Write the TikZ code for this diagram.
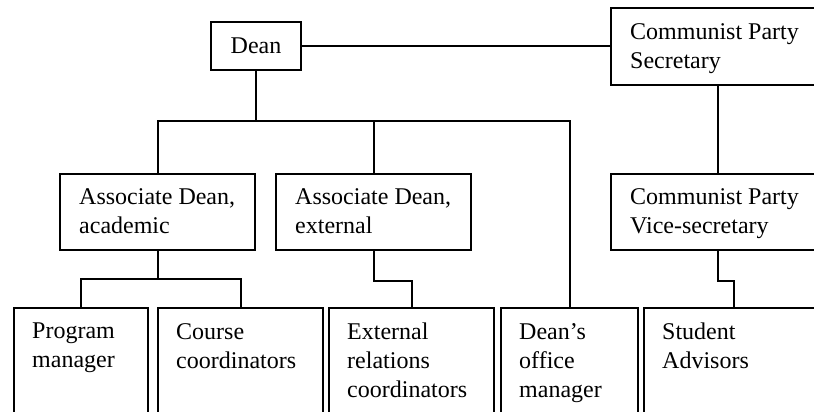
\documentclass[tikz,border=0pt]{standalone}
\usepackage{fontspec}
\setmainfont{Liberation Serif}
\begin{document}
\begin{tikzpicture}[x=1pt,y=-1pt,
  box/.style={draw, line width=2pt, inner sep=0pt, anchor=north west},
  lbl/.style={inner sep=0pt, anchor=north west, align=left, font=\fontsize{24}{29}\selectfont},
  conn/.style={line width=2pt}]
\clip (0,0) rectangle (814,412);
\fill[white] (0,0) rectangle (814,412);
% boxes
\node[box, minimum width=90pt, minimum height=48pt, font=\fontsize{24}{29}\selectfont] (dean) at (210,21) {Dean};
\node[box, minimum width=214pt, minimum height=77pt] (cps) at (610,7) {};
\node[box, minimum width=195pt, minimum height=76pt] (ada) at (59,173) {};
\node[box, minimum width=195pt, minimum height=76pt] (ade) at (275,173) {};
\node[box, minimum width=214pt, minimum height=76pt] (cpvs) at (610,173) {};
\node[box, minimum width=134pt, minimum height=130pt] (pm) at (13,307) {};
\node[box, minimum width=165pt, minimum height=130pt] (cc) at (157,307) {};
\node[box, minimum width=165pt, minimum height=130pt] (erc) at (328,307) {};
\node[box, minimum width=137pt, minimum height=130pt] (dom) at (500,307) {};
\node[box, minimum width=180pt, minimum height=130pt] (sa) at (643,307) {};
% labels
\node[lbl] (tcps) at ([xshift=20pt,yshift=-16pt]cps.north west) {Communist Party\\Secretary};
\node[lbl] (tada) at ([xshift=20pt,yshift=-15pt]ada.north west) {Associate Dean,\\academic};
\node[lbl] (tade) at ([xshift=20pt,yshift=-15pt]ade.north west) {Associate Dean,\\external};
\node[lbl] (tcpvs) at ([xshift=20pt,yshift=-15pt]cpvs.north west) {Communist Party\\Vice-secretary};
\node[lbl] (tpm) at ([xshift=19pt,yshift=-16pt]pm.north west) {Program\\manager};
\node[lbl] (tcc) at ([xshift=19pt,yshift=-16pt]cc.north west) {Course\\coordinators};
\node[lbl] (terc) at ([xshift=19pt,yshift=-16pt]erc.north west) {External\\relations\\coordinators};
\node[lbl] (tdom) at ([xshift=19pt,yshift=-16pt]dom.north west) {Dean’s\\office\\manager};
\node[lbl] (tsa) at ([xshift=19pt,yshift=-16pt]sa.north west) {Student\\Advisors};
% connectors
\coordinate (j1) at (255,121);
\draw[conn] (dean.south) -- (dean.south |- j1);
\draw[conn] (ada.north) -- (ada.north |- j1) -- (dom.north |- j1) -- (dom.north);
\draw[conn] (ade.north) -- (ade.north |- j1);
\draw[conn] (dean.east) -- (cps.west |- dean.east);
\draw[conn] (cps.south) -- (cpvs.north);
\coordinate (j2) at (157,279);
\draw[conn] (ada.south) -- (ada.south |- j2);
\draw[conn] (pm.north) -- (pm.north |- j2) -- (cc.north |- j2) -- (cc.north);
\draw[conn] (ade.south) -- ++(0,30) -| (erc.north);
\draw[conn] (cpvs.south) -- ++(0,30) -| (sa.north);
\end{tikzpicture}
\end{document}
